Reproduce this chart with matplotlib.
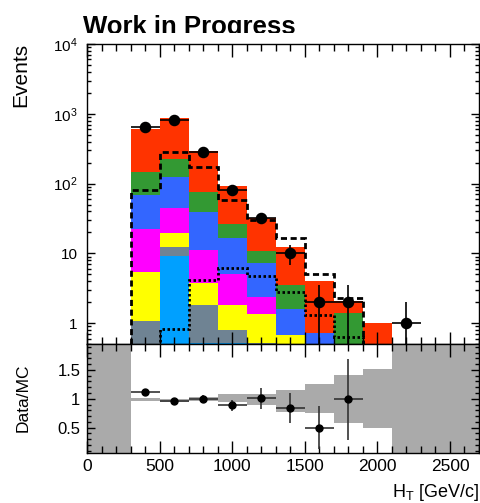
import numpy as np
import matplotlib
matplotlib.use("Agg")
import matplotlib.pyplot as plt
from matplotlib.ticker import LogLocator, MultipleLocator, FixedLocator, FixedFormatter, NullFormatter
from matplotlib.transforms import Bbox, TransformedBbox

plt.rcParams["font.family"] = ["Liberation Sans", "DejaVu Sans"]
plt.rcParams["mathtext.fontset"] = "custom"
plt.rcParams["mathtext.rm"] = "Liberation Sans"
plt.rcParams["mathtext.it"] = "Liberation Sans:italic"

# --------------------------------------------------------------------------
# data (HT bins of 200 GeV from 300 to 2300)
# --------------------------------------------------------------------------
edges = [300, 500, 700, 900, 1100, 1300, 1500, 1700, 1900, 2100, 2300]
centers = [400, 600, 800, 1000, 1200, 1400, 1600, 1800, 2000, 2200]

# stacked MC components, bottom to top
comp_names = ["cyan", "slate", "yellow", "magenta", "blue", "green", "red"]
comp_colors = ["#00a0ff", "#6f8393", "#ffff00", "#ff00ff", "#3366ff", "#339933", "#ff3300"]
mc_cyan = [0, 9.2, 0.52, 0.52, 0.51, 0, 0, 0, 0, 0]
mc_slate = [1.08, 3.0, 1.31, 0.27, 0.02, 0, 0, 0, 0, 0]
mc_yellow = [4.3, 7.3, 2.0, 1.04, 0.82, 0.67, 0, 0, 0, 0]
mc_magenta = [16.9, 25.0, 7.3, 3.2, 1.06, 0.02, 0, 0, 0, 0]
mc_blue = [46.7, 80.5, 27.9, 11.5, 5.0, 0.93, 0.73, 0, 0, 0]
mc_green = [80, 99, 35.7, 9.5, 3.6, 1.96, 0, 1.41, 0, 0]
mc_red = [454, 636, 214, 68, 21.4, 8.6, 3.3, 0.66, 1.02, 0]

# overlay histograms
dashed_vals = [81, 286, 171, 58.7, 30, 16.5, 5.15, 2.31, 0, 0]
dotted_vals = [0, 0.82, 4.2, 6.2, 4.8, 2.78, 1.3, 0.64, 0, 0]

# data points
data_x = [400, 600, 800, 1000, 1200, 1400, 1600, 1800, 2200]
data_y = [653, 823, 285, 82, 32, 10, 2, 2, 1]
data_err_up = [26, 29, 17, 9, 5.7, 3.2, 1.5, 1.5, 1.0]
data_err_dn = [26, 29, 17, 9, 5.7, 3.2, 2.0, 2.0, 1.0]

# ratio panel
ratio_x = [400, 600, 800, 1000, 1200, 1400, 1600, 1800]
ratio_y = [1.11, 0.954, 1.0, 0.884, 1.01, 0.84, 0.50, 0.99]
ratio_err = [0.042, 0.033, 0.058, 0.10, 0.18, 0.26, 0.37, 0.70]
band_edges = [0, 300, 500, 700, 900, 1100, 1300, 1500, 1700, 1900, 2100, 2700]
band_lo = [0.0, 0.958, 0.94, 0.958, 0.94, 0.90, 0.77, 0.76, 0.58, 0.50, 0.0]
band_hi = [2.0, 1.017, 1.005, 1.035, 1.075, 1.09, 1.15, 1.25, 1.41, 1.51, 2.0]

W, H = 481, 503
fig = plt.figure(figsize=(W / 100, H / 100), dpi=100)
ax = fig.add_axes([87.3 / W, 1 - 344.3 / H, 391.7 / W, 300.3 / H])
rax = fig.add_axes([87.3 / W, 1 - 453.3 / H, 391.7 / W, 109.0 / H], sharex=ax)

# stacked histogram
comps = [mc_cyan, mc_slate, mc_yellow, mc_magenta, mc_blue, mc_green, mc_red]
bottom = np.zeros(len(centers))
widths = np.diff(edges)
for vals, col in zip(comps, comp_colors):
    vals = np.asarray(vals, dtype=float)
    ax.bar(edges[:-1], vals, width=widths, bottom=bottom, align="edge",
           color=col, linewidth=0, zorder=2)
    bottom = bottom + vals

# overlays
ax.stairs(np.maximum(dashed_vals, 0.1), edges, baseline=0.1, color="black",
          lw=2, linestyle=(0, (2.2, 1.3)), zorder=3)
ax.stairs(np.maximum(dotted_vals, 0.1), edges, baseline=0.1, color="black",
          lw=2, linestyle=(0, (0.9, 0.9)), zorder=3)

# data
ax.errorbar(data_x, data_y, xerr=100, yerr=[data_err_dn, data_err_up], fmt="o",
            color="black", ms=7.3, elinewidth=1.2, capsize=0, zorder=5)

ax.set_yscale("log")
ax.set_xlim(0, 2700)
ax.set_ylim(0.5, 1e4)
ax.yaxis.set_major_locator(FixedLocator([1, 10, 100, 1000, 10000]))
ax.yaxis.set_major_formatter(FixedFormatter(["1", "10", "$10^{2}$", "$10^{3}$", "$10^{4}$"]))
ax.yaxis.set_minor_locator(LogLocator(base=10, subs=np.arange(2, 10), numticks=20))
ax.yaxis.set_minor_formatter(NullFormatter())
ax.xaxis.set_major_locator(MultipleLocator(500))
ax.xaxis.set_minor_locator(MultipleLocator(100))
ax.tick_params(which="both", direction="in", top=True, right=True, labelbottom=False,
               width=1)
ax.tick_params(axis="x", which="major", length=9)
ax.tick_params(axis="x", which="minor", length=5)
ax.tick_params(axis="y", which="major", length=6, labelsize=11, pad=7)
ax.tick_params(axis="y", which="minor", length=3)

# ratio panel
rax.bar(band_edges[:-1], np.subtract(band_hi, band_lo), width=np.diff(band_edges),
        bottom=band_lo, align="edge", color="#aaaaaa", linewidth=0, zorder=1)
rax.errorbar(ratio_x, ratio_y, xerr=100, yerr=ratio_err, fmt="o", color="black",
             ecolor="#333333", ms=5, elinewidth=1.2, capsize=0, zorder=4)
rax.set_ylim(0.055, 1.945)
rax.yaxis.set_major_locator(FixedLocator([0.5, 1, 1.5]))
rax.yaxis.set_major_formatter(FixedFormatter(["0.5", "1", "1.5"]))
rax.yaxis.set_minor_locator(MultipleLocator(0.1))
rax.tick_params(which="both", direction="in", top=True, right=True, width=1)
rax.tick_params(axis="x", which="major", length=9, labelsize=12.5, pad=4)
rax.tick_params(axis="x", which="minor", length=5)
rax.tick_params(axis="y", which="major", length=6, labelsize=12, pad=5)
rax.tick_params(axis="y", which="minor", length=3)

for a in (ax, rax):
    for s in a.spines.values():
        s.set_linewidth(1.0)
        s.set_zorder(6)
    a.set_axisbelow(False)

# labels (title clipped at the bottom like the original pad)
t = fig.text(83 / W, 1 - 33.6 / H, "Work in Progress", fontsize=18.5,
             fontweight="bold", ha="left", va="baseline")
t.set_clip_box(TransformedBbox(Bbox([[0, 1 - 32.5 / H], [1, 1]]), fig.transFigure))
t.set_clip_on(True)
fig.text(20.5 / W, 1 - 43 / H, "Events", rotation=90, fontsize=15,
         ha="center", va="top")
fig.text(22.8 / W, 1 - 397.5 / H, "Data/MC", rotation=90, fontsize=12.5,
         ha="center", va="center")
fig.text(479 / W, 1 - 497 / H, r"H$_{\mathrm{T}}$ [GeV/c]", fontsize=13,
         ha="right", va="baseline")

fig.savefig("out.png", dpi=100)
